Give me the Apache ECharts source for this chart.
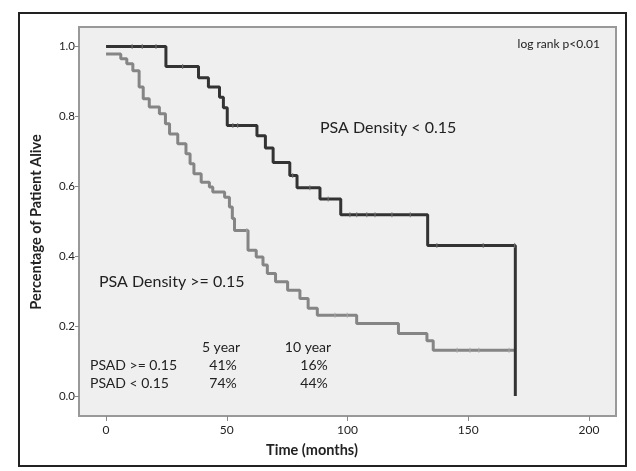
<!DOCTYPE html>
<html>
<head>
<meta charset="utf-8">
<script src="https://cdn.jsdelivr.net/npm/echarts@6/dist/echarts.min.js"></script>
<style>
html,body{margin:0;padding:0;background:#fff;}
#container{width:636px;height:471px;}
</style>
</head>
<body>
<div id="container"></div>
<script>
// survival after each event, PSA density < 0.15
var lowPsad = [[0,1.0],[24.8,0.943],[38.3,0.911],[42.4,0.884],[47,0.855],[48.6,0.825],[50.2,0.774],
  [62.5,0.745],[66,0.71],[69.2,0.668],[76.1,0.631],[79.1,0.596],[88.6,0.564],[97.2,0.519],
  [133.2,0.431],[169.5,0.431],[169.5,0]];
var lowCensor = [[10.8,1.0],[15,1.0],[20.7,1.0],[31.7,0.943],[52.5,0.774],[54.5,0.774],[77.3,0.631],
  [84.4,0.596],[92,0.564],[101,0.519],[103.8,0.519],[108,0.519],[111.4,0.519],[118.4,0.519],[126,0.519],
  [137,0.431],[156.2,0.431],[169.2,0.431]];
// PSA density >= 0.15
var highPsad = [[0,0.979],[6.1,0.965],[8.6,0.951],[11.1,0.931],[13.7,0.884],[15.4,0.851],[17.9,0.827],
  [22.1,0.808],[24.6,0.779],[26.3,0.75],[29.7,0.722],[33.1,0.693],[34.8,0.665],[36.4,0.636],[39.4,0.612],
  [42.8,0.598],[44.2,0.584],[49.1,0.569],[51.1,0.541],[52.3,0.508],[53.2,0.474],[58.8,0.417],[62.2,0.398],
  [65,0.375],[66.8,0.351],[70.2,0.327],[75.2,0.303],[80.3,0.279],[83.7,0.251],[87.5,0.231],[103.8,0.208],
  [121.1,0.179],[132.9,0.158],[135.5,0.131],[169.6,0.131]];
var highCensor = [[58.3,0.474],[94.8,0.231],[99.9,0.231],[145.4,0.131],[150.7,0.131],[154.4,0.131],[166.9,0.131]];

var xTicks = [0,50,100,150,200];
var yTicks = [0,0.2,0.4,0.6,0.8,1.0];
var tableHead = ['5 year','10 year'];
var tableRows = [['PSAD >= 0.15','41%','16%'],['PSAD < 0.15','74%','44%']];

var font = 'Lato, "Open Sans", sans-serif';
var myChart = echarts.init(document.getElementById('container'));

var graphics = [
  {type:'rect', shape:{x:19,y:13,width:607,height:453}, style:{fill:null, stroke:'#222', lineWidth:2}, z:100},
  {type:'text', x:36, y:222, rotation:Math.PI/2, style:{text:'Percentage of Patient Alive', font:'bold 14.5px '+font, fill:'#222', align:'center', verticalAlign:'middle'}},
  {type:'text', x:312, y:450, style:{text:'Time (months)', font:'bold 14.5px '+font, fill:'#222', align:'center', verticalAlign:'middle'}},
  {type:'text', x:600, y:44, style:{text:'log rank p<0.01', font:'12px '+font, fill:'#222', align:'right', verticalAlign:'middle'}},
  {type:'text', x:320, y:128, style:{text:'PSA Density < 0.15', font:'16px '+font, fill:'#222', verticalAlign:'middle'}},
  {type:'text', x:99, y:282, style:{text:'PSA Density >= 0.15', font:'16px '+font, fill:'#222', verticalAlign:'middle'}},
  {type:'text', x:221, y:347, style:{text:tableHead[0], font:'14px '+font, fill:'#222', align:'center', verticalAlign:'middle'}},
  {type:'text', x:308, y:347, style:{text:tableHead[1], font:'14px '+font, fill:'#222', align:'center', verticalAlign:'middle'}}
];
tableRows.forEach(function(r, i){
  var y = 365 + i*18;
  graphics.push({type:'text', x:90, y:y, style:{text:r[0], font:'14px '+font, fill:'#222', verticalAlign:'middle'}});
  graphics.push({type:'text', x:223, y:y, style:{text:r[1], font:'14px '+font, fill:'#222', align:'center', verticalAlign:'middle'}});
  graphics.push({type:'text', x:314, y:y, style:{text:r[2], font:'14px '+font, fill:'#222', align:'center', verticalAlign:'middle'}});
});

var option = {
  animation: false,
  backgroundColor: '#fff',
  grid: {
    left: 79, right: 20, top: 27, bottom: 55,
    show: true, backgroundColor: '#efefef', borderColor: '#999', borderWidth: 2
  },
  xAxis: {
    type: 'value', min: -11.2, max: 211.2,
    splitLine: {show: false},
    axisLine: {show: false, onZero: false},
    axisTick: {show: true, customValues: xTicks, length: 5, lineStyle: {color: '#888'}},
    axisLabel: {customValues: xTicks, color: '#222', fontSize: 12, fontFamily: font, margin: 8}
  },
  yAxis: {
    type: 'value', min: -0.057, max: 1.056,
    splitLine: {show: false},
    axisLine: {show: false, onZero: false},
    axisTick: {show: true, customValues: yTicks, length: 4, lineStyle: {color: '#888'}},
    axisLabel: {customValues: yTicks, color: '#222', fontSize: 11.5, fontFamily: font, margin: 4,
      formatter: function(v){ return v.toFixed(1); }}
  },
  graphic: graphics,
  series: [
    {type:'line', step:'end', data:highPsad, symbol:'none', lineStyle:{color:'#858585', width:3}, z:3},
    {type:'line', step:'end', data:lowPsad, symbol:'none', lineStyle:{color:'#333', width:3}, z:4},
    {type:'scatter', data:highCensor, symbol:'rect', symbolSize:[1.2,5], itemStyle:{color:'#aaa'}, z:5},
    {type:'scatter', data:lowCensor, symbol:'rect', symbolSize:[1.2,5], itemStyle:{color:'#777'}, z:5}
  ]
};
myChart.setOption(option);
</script>
</body>
</html>
